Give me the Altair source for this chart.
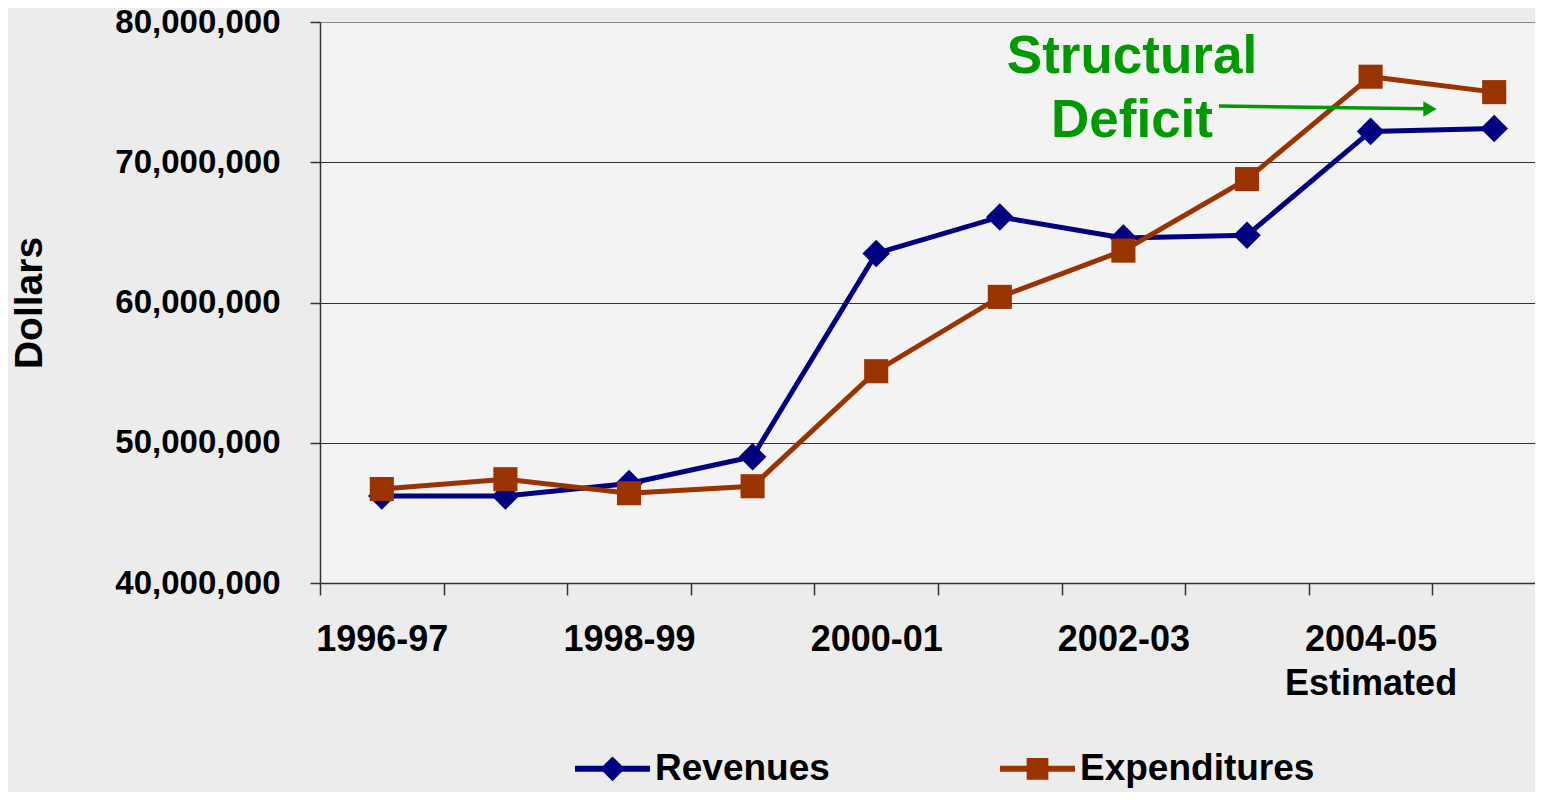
import json
import altair as alt
import pandas as pd

# ---------------- data ----------------
years = ["1996-97", "1997-98", "1998-99", "1999-00", "2000-01",
         "2001-02", "2002-03", "2003-04", "2004-05", "2005-06"]
revenues = [46.2e6, 46.2e6, 47.1e6, 49.0e6, 63.5e6,
            66.1e6, 64.6e6, 64.8e6, 72.2e6, 72.4e6]
expenditures = [46.7e6, 47.4e6, 46.4e6, 46.9e6, 55.1e6,
                60.4e6, 63.7e6, 68.8e6, 76.1e6, 75.0e6]
series_names = ["Revenues", "Expenditures"]
series_colors = ["#000080", "#993300"]
series_shapes = ["diamond", "square"]
shown_labels = {
    "1996-97": "1996-97",
    "1998-99": "1998-99",
    "2000-01": "2000-01",
    "2002-03": "2002-03",
    "2004-05": ["2004-05", "Estimated"],
}
y_ticks = [40e6, 50e6, 60e6, 70e6, 80e6]
annotation_lines = ["Structural", "Deficit"]

rows = []
for name, vals in zip(series_names, [revenues, expenditures]):
    for yr, v in zip(years, vals):
        rows.append({"year": yr, "series": name, "value": v})
df = pd.DataFrame(rows)

FONT = "Liberation Sans"
GREEN = "#009900"

# label expression: show every other year, last shown one on two lines
expr = "''"
for k, v in reversed(list(shown_labels.items())):
    expr = f"datum.value == '{k}' ? {json.dumps(v)} : ({expr})"

x_enc = alt.X(
    "year:N",
    sort=years,
    scale=alt.Scale(type="band", domain=years, paddingInner=0, paddingOuter=0),
    axis=alt.Axis(
        title=None, labelAngle=0, labelExpr=expr, tickBand="extent",
        tickSize=12, labelPadding=27, labelFontSize=36, labelLineHeight=44,
        grid=False, domainWidth=1.5, tickWidth=1.5,
    ),
)
y_enc = alt.Y(
    "value:Q",
    scale=alt.Scale(domain=[40e6, 80e6], nice=False, zero=False),
    axis=alt.Axis(
        values=y_ticks, format=",.0f", title="Dollars", titleFontSize=39,
        titlePadding=71, tickSize=10, labelPadding=30, labelFontSize=33,
        grid=True, gridWidth=1.2, domainWidth=1.5, tickWidth=1.5,
        gridColor={"condition": {"test": "datum.value == 80000000", "value": "#8a8a8a"},
                   "value": "#333333"},
    ),
)

base = alt.Chart(df)

layers = []
for name, col, shape, size in zip(series_names, series_colors, series_shapes, [760, 580]):
    sub = base.transform_filter(alt.datum.series == name)
    layers.append(sub.mark_line(strokeWidth=5, color=col).encode(x=x_enc, y=y_enc))
    layers.append(sub.mark_point(shape=shape, filled=True, size=size, opacity=1, color=col)
                  .encode(x=x_enc, y=y_enc))

# legend-only layer (invisible marks, custom line+marker symbols)
legend_paths = [
    "M-1,-0.08H1V0.08H-1Z M-0.33,0L0,-0.33L0.33,0L0,0.33Z",
    "M-1,-0.08H1V0.08H-1Z M-0.29,-0.29H0.29V0.29H-0.29Z",
]
leg_props = dict(
    orient="none", legendX=255, legendY=709, direction="horizontal", title=None,
    labelFont=FONT, labelFontSize=37, labelFontWeight="bold", labelColor="black",
    symbolSize=5625, symbolStrokeWidth=0, symbolOpacity=1, columnPadding=170,
    labelOffset=5, padding=0, labelLimit=400,
)
legend_layer = base.mark_point(filled=True, opacity=0).encode(
    x=x_enc, y=y_enc,
    color=alt.Color("series:N", scale=alt.Scale(domain=series_names, range=series_colors),
                    legend=alt.Legend(**leg_props)),
    shape=alt.Shape("series:N", scale=alt.Scale(domain=series_names, range=legend_paths),
                    legend=alt.Legend(**leg_props)),
)

# annotation
ann = alt.Chart(pd.DataFrame({"a": [0]}))
ann_text = ann.mark_text(
    text=annotation_lines, lineHeight=64, fontSize=53, fontWeight="bold",
    font=FONT, color=GREEN, align="center", baseline="alphabetic",
).encode(x=alt.value(812), y=alt.datum(76.36e6))
ann_rule = ann.mark_rule(color=GREEN, strokeWidth=3.5).encode(
    x=alt.value(899), x2=alt.value(1105),
    y=alt.datum(74.01e6), y2=alt.datum(73.82e6),
)
ann_head = ann.mark_point(shape="triangle-right", filled=True, size=240,
                          color=GREEN, opacity=1).encode(
    x=alt.value(1110), y=alt.datum(73.80e6),
)

chart = alt.layer(*layers, legend_layer, ann_text, ann_rule, ann_head).properties(
    width=1236, height=561,
    autosize=alt.AutoSizeParams(type="none"),
    padding={"left": 312, "top": 14, "right": -21, "bottom": 209},
).configure(
    font=FONT, background="#ececec",
).configure_view(
    fill="#f3f3f3", strokeWidth=0,
).configure_axis(
    labelFont=FONT, labelFontWeight="bold", labelColor="black",
    titleFont=FONT, titleFontWeight="bold", titleColor="black",
    domainColor="#333333", tickColor="#333333",
)

chart.save("out.html", embed_options={"renderer": "svg", "actions": False})
